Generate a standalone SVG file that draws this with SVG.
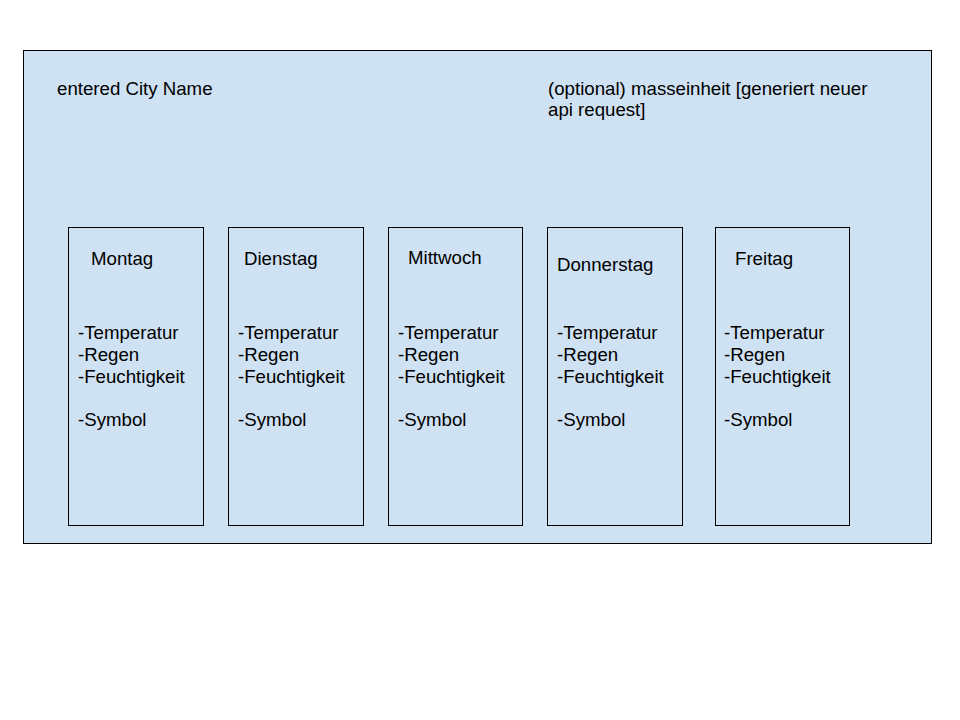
<svg xmlns="http://www.w3.org/2000/svg" width="960" height="720" viewBox="0 0 960 720">
<style>
.box{fill:#cfe2f3;stroke:#000;stroke-width:1}
text{font-family:"Liberation Sans",Arial,sans-serif;font-size:18.67px;fill:#000}
</style>
<rect width="960" height="720" fill="#fff"/>
<g id="container">
<rect class="box" x="23.5" y="50.5" width="908" height="493"/>
<text x="57" y="95">entered City Name</text>
<text x="548" y="95">(optional) masseinheit [generiert neuer</text>
<text x="548" y="116">api request]</text>
</g>
<g id="montag">
<rect class="box" x="68.5" y="227.5" width="135" height="298"/>
<text x="91" y="265">Montag</text>
<text x="78" y="339">-Temperatur</text>
<text x="78" y="361">-Regen</text>
<text x="78" y="383">-Feuchtigkeit</text>
<text x="78" y="426">-Symbol</text>
</g>
<g id="dienstag">
<rect class="box" x="228.5" y="227.5" width="135" height="298"/>
<text x="244" y="265">Dienstag</text>
<text x="238" y="339">-Temperatur</text>
<text x="238" y="361">-Regen</text>
<text x="238" y="383">-Feuchtigkeit</text>
<text x="238" y="426">-Symbol</text>
</g>
<g id="mittwoch">
<rect class="box" x="388.5" y="227.5" width="134" height="298"/>
<text x="408" y="264">Mittwoch</text>
<text x="398" y="339">-Temperatur</text>
<text x="398" y="361">-Regen</text>
<text x="398" y="383">-Feuchtigkeit</text>
<text x="398" y="426">-Symbol</text>
</g>
<g id="donnerstag">
<rect class="box" x="547.5" y="227.5" width="135" height="298"/>
<text x="557" y="271">Donnerstag</text>
<text x="557" y="339">-Temperatur</text>
<text x="557" y="361">-Regen</text>
<text x="557" y="383">-Feuchtigkeit</text>
<text x="557" y="426">-Symbol</text>
</g>
<g id="freitag">
<rect class="box" x="715.5" y="227.5" width="134" height="298"/>
<text x="735" y="265">Freitag</text>
<text x="724" y="339">-Temperatur</text>
<text x="724" y="361">-Regen</text>
<text x="724" y="383">-Feuchtigkeit</text>
<text x="724" y="426">-Symbol</text>
</g>
<g id="connectors"></g>
</svg>
